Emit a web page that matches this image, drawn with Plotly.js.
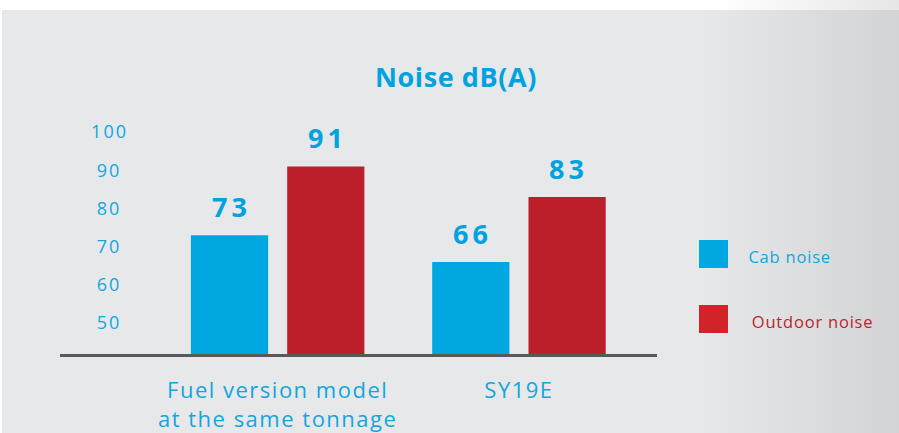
<!DOCTYPE html>
<html>
<head>
<meta charset="utf-8">
<script src="https://cdn.plot.ly/plotly-3.0.1.min.js"></script>
<style>
  html, body { margin: 0; padding: 0; background: #ffffff; }
  #wrap { position: relative; width: 899px; height: 433px; overflow: hidden; background: #ffffff; }
  #topband { position: absolute; left: 0; top: 0; width: 899px; height: 10px;
    background: linear-gradient(to right, #ffffff 0%, #ffffff 80%, #e6e6e7 100%); }
  #bg { position: absolute; left: 2px; top: 10px; width: 897px; height: 423px;
    background: linear-gradient(to right, #e7e8ea 0%, #e7e8ea 78%, #d3d4d6 100%); }
  #chart { position: absolute; left: 0; top: 0; width: 899px; height: 433px; }
  #chart svg .ytick text { letter-spacing: 2px; }
  #chart svg .xtick text { letter-spacing: 1.5px; }
  #chart svg .gtitle { letter-spacing: 0.6px; }
  #chart svg .annotation.datalabel text { letter-spacing: 4px; }
  #chart svg .annotation text { letter-spacing: 0.8px; }
</style>
</head>
<body>
<div id="wrap">
  <div id="topband"></div>
  <div id="bg"></div>
  <div id="chart"></div>
</div>
<script>
// ---- data ----
const categories = ["Fuel version model<br>at the same tonnage", "SY19E"];
const seriesNames = ["Cab noise", "Outdoor noise"];
const cabNoise = [73, 66];
const outdoorNoise = [91, 83];
const yTickVals = [50, 60, 70, 80, 90, 100];
const yTickText = ["50\u00a0", "60\u00a0", "70\u00a0", "80\u00a0", "90\u00a0", "100"];
const chartTitle = "Noise dB(A)";

// ---- styles ----
const blue = "#00a7e1";
const red = "#bc1f29";
const legendRed = "#d2232a";
const textBlue = "#12a6df";
const textRed = "#be1e2d";
const font = "Open Sans, Liberation Sans, sans-serif";

const W = 899, H = 433;
const mL = 60, mR = 242, mT = 100, mB = 79;
const pw = W - mL - mR, ph = H - mT - mB;
const px = x => (x - mL) / pw;
const py = y => (H - mB - y) / ph;

const traces = [
  { type: "bar", name: seriesNames[0], x: categories, y: cabNoise,
    marker: { color: blue }, hoverinfo: "skip" },
  { type: "bar", name: seriesNames[1], x: categories, y: outdoorNoise,
    marker: { color: red }, hoverinfo: "skip" }
];

const annotations = [];
const dataLabelCount = cabNoise.length + outdoorNoise.length;
[cabNoise, outdoorNoise].forEach((vals, s) => {
  vals.forEach((v, i) => {
    annotations.push({
      x: i, y: v, xref: "x", yref: "y", text: String(v), showarrow: false,
      xanchor: "center", yanchor: "bottom", xshift: (s === 0 ? -48 : 48) + 2, yshift: 8,
      font: { family: font, size: 27, color: "#00a3e0", weight: 700 }
    });
  });
});

// legend (drawn manually with large squares)
const legendColors = [blue, legendRed];
const legendTextColors = [textBlue, textRed];
const legendY = [254, 319];
const legendTextX = [750, 755];
const shapes = [];
seriesNames.forEach((n, k) => {
  shapes.push({ type: "rect", xref: "paper", yref: "paper",
    x0: px(699), x1: px(728), y0: py(legendY[k] - 14), y1: py(legendY[k] + 14),
    fillcolor: legendColors[k], line: { width: 0 } });
  annotations.push({ xref: "paper", yref: "paper", x: px(legendTextX[k]), y: py(legendY[k] + 2),
    text: n, showarrow: false, xanchor: "left", yanchor: "middle",
    font: { family: font, size: 16.5, color: legendTextColors[k] } });
});

const layout = {
  width: W, height: H,
  margin: { l: mL, r: mR, t: mT, b: mB, pad: 0 },
  paper_bgcolor: "rgba(0,0,0,0)",
  plot_bgcolor: "rgba(0,0,0,0)",
  showlegend: false,
  barmode: "group",
  bargap: 0.202,
  bargroupgap: 0.198,
  title: { text: chartTitle, xref: "paper", x: px(456), xanchor: "center",
    yref: "container", y: 1 - 78 / H, yanchor: "middle",
    font: { family: font, size: 27, color: "#00a3e0", weight: 700 } },
  xaxis: {
    type: "category", range: [-0.902, 1.572],
    showline: true, linecolor: "#58595b", linewidth: 3,
    showgrid: false, zeroline: false, ticks: "",
    ticklabelstandoff: 15,
    tickfont: { family: font, size: 22, color: textBlue }
  },
  yaxis: {
    range: [41.9, 108.4], anchor: "free", position: px(128),
    showline: false, showgrid: false, zeroline: false, ticks: "",
    tickvals: yTickVals, ticktext: yTickText,
    tickfont: { family: font, size: 18, color: textBlue }
  },
  shapes: shapes,
  annotations: annotations
};

Plotly.newPlot("chart", traces, layout, { displayModeBar: false, staticPlot: true }).then(() => {
  // tag data-label annotations for letter spacing
  const anns = document.querySelectorAll("#chart .annotation");
  anns.forEach((a, idx) => { if (idx < dataLabelCount) a.classList.add("datalabel"); });
});
</script>
</body>
</html>
